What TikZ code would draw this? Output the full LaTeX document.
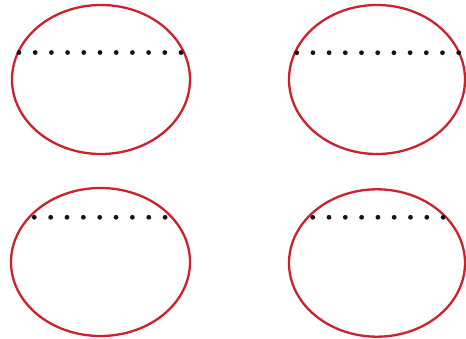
\documentclass[tikz,border=0pt]{standalone}
\definecolor{ovalred}{RGB}{204,34,48}
\definecolor{dotblack}{RGB}{20,20,20}
\tikzset{
  oval/.style={draw=ovalred, line width=2.3pt},
  dotmark/.style={fill=dotblack}
}
\begin{document}
\begin{tikzpicture}[x=1pt,y=-1pt]
\useasboundingbox (0,0) rectangle (466,339);
% top-left
\draw[oval] (101,79.5) ellipse [x radius=89, y radius=74.5];
\foreach \i in {0,...,10} \fill[dotmark] (19+16.2*\i,52.5) circle (2.4);
% top-right
\draw[oval] (377,79.5) ellipse [x radius=88, y radius=74.5];
\foreach \i in {0,...,10} \fill[dotmark] (296.7+16.2*\i,52.7) circle (2.4);
% bottom-left
\draw[oval] (100.5,262) ellipse [x radius=89.5, y radius=74];
\foreach \i in {0,...,8} \fill[dotmark] (34.3+16.35*\i,217.3) circle (2.4);
% bottom-right
\draw[oval] (377,263) ellipse [x radius=88, y radius=73.7];
\foreach \i in {0,...,8} \fill[dotmark] (312.7+16.3*\i,217.3) circle (2.4);
\end{tikzpicture}
\end{document}
